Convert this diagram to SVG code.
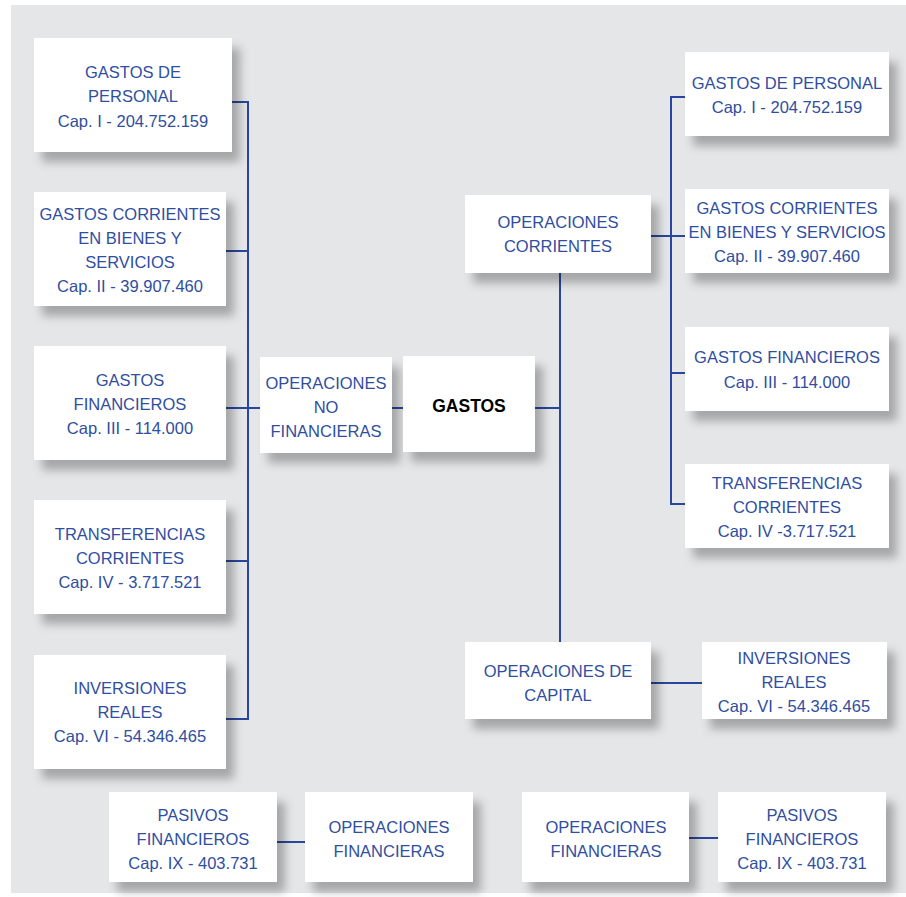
<svg xmlns="http://www.w3.org/2000/svg" width="906" height="897" viewBox="0 0 906 897">
<defs>
<filter id="sh" x="-20%" y="-20%" width="150%" height="160%">
<feDropShadow dx="8" dy="10" stdDeviation="5" flood-color="#000" flood-opacity="0.28"/>
</filter>
<style>
.box{fill:#fff;filter:url(#sh)}
.t{font-family:"Liberation Sans",Arial,sans-serif;font-size:16.5px;fill:#2f4ea1;text-anchor:middle}
.b{font-family:"Liberation Sans",Arial,sans-serif;font-size:17.5px;font-weight:bold;fill:#000;text-anchor:middle}
.ln{stroke:#2a459f;stroke-width:2;fill:none}
</style>
</defs>
<rect x="0" y="0" width="906" height="897" fill="#fff"/>
<rect x="11" y="5" width="895" height="888" fill="#e5e6e8"/>
<g id="connectors">
<path class="ln" d="M232 102H248V719H226M226 251H248M226 408H260M226 561H248"/>
<path class="ln" d="M392 408H403M535 408H560"/>
<path class="ln" d="M560 273V642"/>
<path class="ln" d="M651 236H671M685 97H671V504H685M671 236H685M671 373H685"/>
<path class="ln" d="M651 683H702"/>
<path class="ln" d="M277 842H305"/>
<path class="ln" d="M689 838H718"/>
</g>
<g id="l1"><rect class="box" x="34" y="38" width="198" height="114"/>
<text class="t" x="133" y="78">GASTOS DE</text><text class="t" x="133" y="102">PERSONAL</text><text class="t" x="133" y="127">Cap. I - 204.752.159</text></g>
<g id="l2"><rect class="box" x="34" y="192" width="192" height="114"/>
<text class="t" x="130" y="220">GASTOS CORRIENTES</text><text class="t" x="130" y="244">EN BIENES Y</text><text class="t" x="130" y="268">SERVICIOS</text><text class="t" x="130" y="292">Cap. II - 39.907.460</text></g>
<g id="l3"><rect class="box" x="34" y="346" width="192" height="114"/>
<text class="t" x="130" y="386">GASTOS</text><text class="t" x="130" y="410">FINANCIEROS</text><text class="t" x="130" y="434">Cap. III - 114.000</text></g>
<g id="l4"><rect class="box" x="34" y="500" width="192" height="114"/>
<text class="t" x="130" y="540">TRANSFERENCIAS</text><text class="t" x="130" y="564">CORRIENTES</text><text class="t" x="130" y="588">Cap. IV - 3.717.521</text></g>
<g id="l5"><rect class="box" x="34" y="655" width="192" height="114"/>
<text class="t" x="130" y="694">INVERSIONES</text><text class="t" x="130" y="718">REALES</text><text class="t" x="130" y="742">Cap. VI - 54.346.465</text></g>
<g id="onf"><rect class="box" x="260" y="357" width="132" height="96"/>
<text class="t" x="326" y="389">OPERACIONES</text><text class="t" x="326" y="413">NO</text><text class="t" x="326" y="437">FINANCIERAS</text></g>
<g id="gastos"><rect class="box" x="403" y="356" width="132" height="96"/>
<text class="b" x="469" y="412">GASTOS</text></g>
<g id="oc"><rect class="box" x="465" y="195" width="186" height="78"/>
<text class="t" x="558" y="228">OPERACIONES</text><text class="t" x="558" y="252">CORRIENTES</text></g>
<g id="r1"><rect class="box" x="685" y="52" width="204" height="84"/>
<text class="t" x="787" y="89">GASTOS DE PERSONAL</text><text class="t" x="787" y="113">Cap. I - 204.752.159</text></g>
<g id="r2"><rect class="box" x="685" y="189" width="204" height="84"/>
<text class="t" x="787" y="214">GASTOS CORRIENTES</text><text class="t" x="787" y="238">EN BIENES Y SERVICIOS</text><text class="t" x="787" y="262">Cap. II - 39.907.460</text></g>
<g id="r3"><rect class="box" x="685" y="327" width="204" height="84"/>
<text class="t" x="787" y="363">GASTOS FINANCIEROS</text><text class="t" x="787" y="388">Cap. III - 114.000</text></g>
<g id="r4"><rect class="box" x="685" y="464" width="204" height="84"/>
<text class="t" x="787" y="489">TRANSFERENCIAS</text><text class="t" x="787" y="513">CORRIENTES</text><text class="t" x="787" y="537">Cap. IV -3.717.521</text></g>
<g id="ocap"><rect class="box" x="465" y="642" width="186" height="77"/>
<text class="t" x="558" y="677">OPERACIONES DE</text><text class="t" x="558" y="701">CAPITAL</text></g>
<g id="inv"><rect class="box" x="702" y="642" width="185" height="77"/>
<text class="t" x="794" y="664">INVERSIONES</text><text class="t" x="794" y="688">REALES</text><text class="t" x="794" y="712">Cap. VI - 54.346.465</text></g>
<g id="pas1"><rect class="box" x="109" y="792" width="168" height="90"/>
<text class="t" x="193" y="821">PASIVOS</text><text class="t" x="193" y="845">FINANCIEROS</text><text class="t" x="193" y="869">Cap. IX - 403.731</text></g>
<g id="of1"><rect class="box" x="305" y="792" width="168" height="90"/>
<text class="t" x="389" y="833">OPERACIONES</text><text class="t" x="389" y="857">FINANCIERAS</text></g>
<g id="of2"><rect class="box" x="522" y="792" width="167" height="90"/>
<text class="t" x="606" y="833">OPERACIONES</text><text class="t" x="606" y="857">FINANCIERAS</text></g>
<g id="pas2"><rect class="box" x="718" y="792" width="168" height="90"/>
<text class="t" x="802" y="821">PASIVOS</text><text class="t" x="802" y="845">FINANCIEROS</text><text class="t" x="802" y="869">Cap. IX - 403.731</text></g>
</svg>
